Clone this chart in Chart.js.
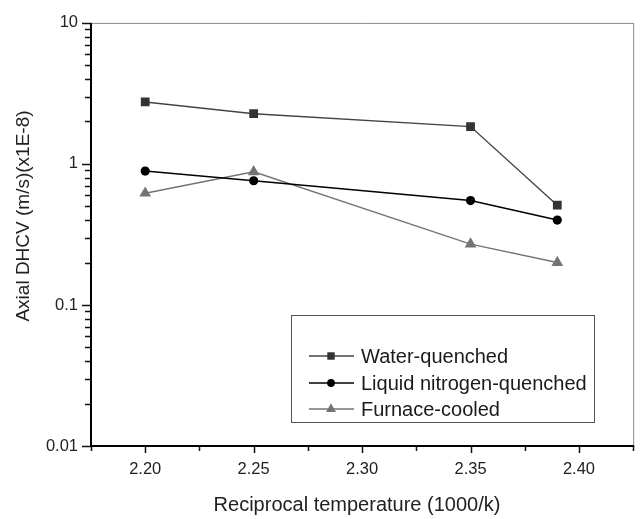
<!DOCTYPE html>
<html>
<head>
<meta charset="utf-8">
<script src="https://cdn.jsdelivr.net/npm/chart.js@4/dist/chart.umd.min.js"></script>
<style>
  html, body { margin: 0; padding: 0; background: #fff; }
  #wrap { width: 640px; height: 519px; position: relative; }
</style>
</head>
<body>
<div id="wrap"><canvas id="dhcv"></canvas></div>
<script>
// data
const temps = [2.20, 2.25, 2.35, 2.39];
const waterQuenched = [2.75, 2.27, 1.84, 0.51];
const nitrogenQuenched = [0.89, 0.76, 0.55, 0.40];
const furnaceCooled = [0.62, 0.88, 0.27, 0.20];
const xTicks = [2.20, 2.25, 2.30, 2.35, 2.40];
const yTicks = [0.01, 0.1, 1, 10];
const seriesNames = ['Water-quenched', 'Liquid nitrogen-quenched', 'Furnace-cooled'];

const FONT = "'Liberation Sans', Arial, sans-serif";
const toPts = vals => temps.map((t, i) => ({ x: t, y: vals[i] }));

// axes frame, tick marks, axis titles and the boxed legend
const framePlugin = {
    id: 'frame',
    afterDatasetsDraw(chart) {
        const { ctx, chartArea: a, scales } = chart;
        const xs = scales.x, ys = scales.y;
        ctx.save();

        // thin top / right border
        ctx.strokeStyle = '#888';
        ctx.lineWidth = 1;
        ctx.beginPath();
        ctx.moveTo(a.left, a.top + 0.5);
        ctx.lineTo(a.right + 0.5, a.top + 0.5);
        ctx.lineTo(a.right + 0.5, a.bottom);
        ctx.stroke();

        // ticks
        ctx.strokeStyle = '#111';
        ctx.lineWidth = 1.5;
        ctx.beginPath();
        for (let v = xs.min; v <= xs.max + 1e-9; v += 0.025) {
            const px = Math.round(xs.getPixelForValue(v)) + 0.5;
            const major = Math.abs(v / 0.05 - Math.round(v / 0.05)) < 1e-6;
            ctx.moveTo(px, a.bottom);
            ctx.lineTo(px, a.bottom + (major ? 7 : 5));
        }
        for (let d = 0.01; d < 10.5; d *= 10) {
            for (let k = 1; k <= 9; k++) {
                const v = d * k;
                if (v > ys.max * 1.0001) break;
                const py = Math.round(ys.getPixelForValue(v)) + 0.5;
                ctx.moveTo(a.left, py);
                ctx.lineTo(a.left - (k === 1 ? 9 : 6), py);
            }
        }
        ctx.stroke();

        // thick left / bottom axes
        ctx.strokeStyle = '#000';
        ctx.lineWidth = 2;
        ctx.beginPath();
        ctx.moveTo(a.left, a.top);
        ctx.lineTo(a.left, a.bottom);
        ctx.lineTo(a.right + 1, a.bottom);
        ctx.stroke();

        // axis titles
        ctx.fillStyle = '#222';
        ctx.textAlign = 'center';
        ctx.textBaseline = 'middle';
        ctx.font = '20px ' + FONT;
        ctx.fillText('Reciprocal temperature (1000/k)', 357, 505);
        ctx.save();
        ctx.translate(24, 216);
        ctx.rotate(-Math.PI / 2);
        ctx.font = '19px ' + FONT;
        ctx.fillText('Axial DHCV (m/s)(x1E-8)', 0, 0);
        ctx.restore();

        // legend box
        const bx = 291, by = 315, bw = 303, bh = 107;
        ctx.strokeStyle = '#555';
        ctx.lineWidth = 1;
        ctx.strokeRect(bx + 0.5, by + 0.5, bw, bh);
        const rowY = [356, 383, 409];
        chart.data.datasets.forEach((ds, i) => {
            const y = rowY[i];
            ctx.strokeStyle = ds.borderColor;
            ctx.lineWidth = ds.borderWidth;
            ctx.beginPath();
            ctx.moveTo(309, y);
            ctx.lineTo(354, y);
            ctx.stroke();
            ctx.fillStyle = ds.pointBackgroundColor;
            ctx.strokeStyle = ds.pointBackgroundColor;
            Chart.helpers.drawPoint(ctx, {
                pointStyle: ds.pointStyle,
                radius: ds.pointRadius * 0.85,
                borderWidth: 0,
                rotation: 0
            }, 331, y);
            ctx.fillStyle = '#1a1a1a';
            ctx.textAlign = 'left';
            ctx.textBaseline = 'middle';
            ctx.font = '20px ' + FONT;
            ctx.fillText(ds.label, 361, y + 1);
        });
        ctx.restore();
    }
};

new Chart(document.getElementById('dhcv'), {
    type: 'line',
    data: {
        datasets: [
            {
                label: seriesNames[0],
                data: toPts(waterQuenched),
                borderColor: '#444',
                borderWidth: 1.4,
                pointStyle: 'rect',
                pointRadius: 6.2,
                pointBackgroundColor: '#333',
                pointBorderWidth: 0
            },
            {
                label: seriesNames[1],
                data: toPts(nitrogenQuenched),
                borderColor: '#000',
                borderWidth: 1.6,
                pointStyle: 'circle',
                pointRadius: 4.6,
                pointBackgroundColor: '#000',
                pointBorderWidth: 0
            },
            {
                label: seriesNames[2],
                data: toPts(furnaceCooled),
                borderColor: '#747474',
                borderWidth: 1.4,
                pointStyle: 'triangle',
                pointRadius: 6.8,
                pointBackgroundColor: '#747474',
                pointBorderWidth: 0
            }
        ]
    },
    options: {
        responsive: true,
        maintainAspectRatio: false,
        animation: false,
        layout: { padding: { top: 18, right: 6, left: 0, bottom: 0 } },
        plugins: {
            legend: { display: false },
            tooltip: { enabled: false }
        },
        elements: { line: { tension: 0 } },
        scales: {
            x: {
                type: 'linear',
                min: 2.175,
                max: 2.425,
                afterBuildTicks: s => { s.ticks = xTicks.map(v => ({ value: v })); },
                afterFit: s => { s.height = 73; },
                grid: { display: false, drawTicks: false },
                border: { display: false },
                ticks: {
                    padding: 14,
                    color: '#222',
                    font: { family: FONT, size: 16.5 },
                    maxRotation: 0,
                    callback: v => v.toFixed(2)
                }
            },
            y: {
                type: 'logarithmic',
                min: 0.01,
                max: 10,
                afterBuildTicks: s => { s.ticks = yTicks.map(v => ({ value: v, major: true })); },
                afterFit: s => { s.width = 91; },
                grid: { display: false, drawTicks: false },
                border: { display: false },
                ticks: {
                    padding: 13,
                    color: '#222',
                    font: { family: FONT, size: 16.5 },
                    callback: v => String(v)
                }
            }
        }
    },
    plugins: [framePlugin]
});
</script>
</body>
</html>
